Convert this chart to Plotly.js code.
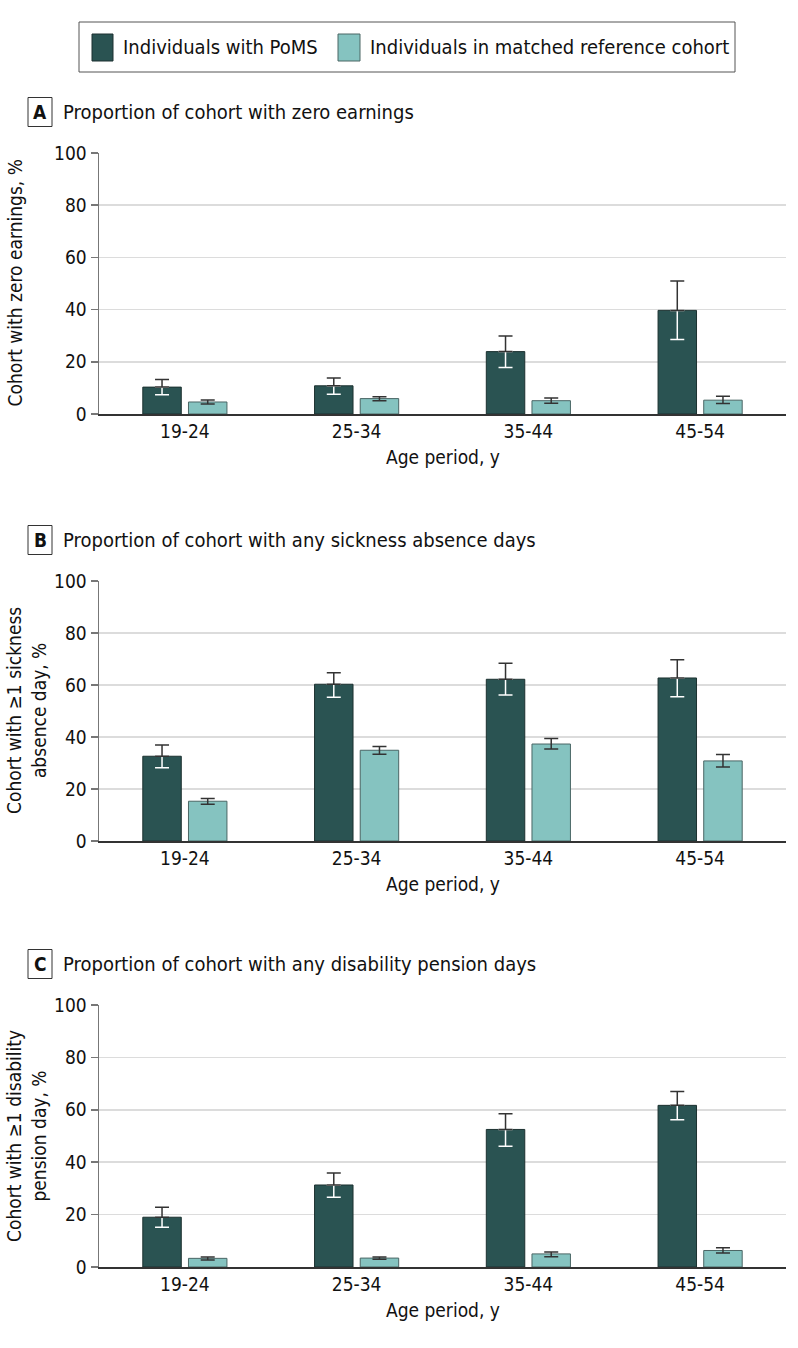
<!DOCTYPE html>
<html>
<head>
<meta charset="utf-8">
<script src="https://cdn.plot.ly/plotly-3.0.1.min.js"></script>
<style>html,body{margin:0;padding:0;background:#fff;}#chart{width:798px;height:1348px;}</style>
</head>
<body>
<div id="chart"></div>
<script>
// ---------- DATA ----------
const categories = ['19-24', '25-34', '35-44', '45-54'];
const seriesNames = ['Individuals with PoMS', 'Individuals in matched reference cohort'];
const panelLetters = ['A', 'B', 'C'];
const panelTitles = [
  'Proportion of cohort with zero earnings',
  'Proportion of cohort with any sickness absence days',
  'Proportion of cohort with any disability pension days'
];
const yTitles = [
  'Cohort with zero earnings, %',
  'Cohort with ≥1 sickness<br>absence day, %',
  'Cohort with ≥1 disability<br>pension day, %'
];
const xTitle = 'Age period, y';
const yTicks = [0, 20, 40, 60, 80, 100];

// Panel A: zero earnings
const zeroPoms   = [10.3, 10.8, 23.9, 39.7];
const zeroPomsLo = [7.4, 7.6, 17.8, 28.5];
const zeroPomsHi = [13.2, 13.8, 29.9, 51.0];
const zeroRef    = [4.6, 5.9, 5.1, 5.3];
const zeroRefLo  = [3.8, 5.1, 4.1, 4.0];
const zeroRefHi  = [5.4, 6.6, 6.1, 6.8];

// Panel B: sickness absence
const sickPoms   = [32.6, 60.3, 62.2, 62.7];
const sickPomsLo = [28.2, 55.3, 56.2, 55.5];
const sickPomsHi = [36.9, 64.7, 68.4, 69.7];
const sickRef    = [15.3, 34.9, 37.3, 30.8];
const sickRefLo  = [14.1, 33.4, 35.4, 28.5];
const sickRefHi  = [16.3, 36.3, 39.4, 33.3];

// Panel C: disability pension
const disPoms   = [19.0, 31.3, 52.5, 61.7];
const disPomsLo = [15.2, 26.6, 46.1, 56.2];
const disPomsHi = [22.8, 35.9, 58.5, 67.0];
const disRef    = [3.3, 3.4, 5.0, 6.3];
const disRefLo  = [2.7, 3.0, 3.9, 5.3];
const disRefHi  = [3.8, 3.8, 5.7, 7.3];

// ---------- STYLE / LAYOUT ----------
const W = 798, H = 1348;
const ML = 99, MR = 12;
const PW = W - ML - MR;
const FONT = '"DejaVu Sans Condensed", "Liberation Sans Narrow", Roboto, sans-serif';
const DARK = '#2a5352', LIGHT = '#85c3c0';
const ERR = '#333333';
const plotTops = [153, 581, 1005];
const plotBottoms = [414, 841, 1267];

const xp = px => (px - ML) / PW;
const yp = py => 1 - py / H;
const diff = (a, b) => a.map((v, i) => v - b[i]);
const zeros = n => new Array(n).fill(0);

const panels = [
  [zeroPoms, zeroPomsLo, zeroPomsHi, zeroRef, zeroRefLo, zeroRefHi],
  [sickPoms, sickPomsLo, sickPomsHi, sickRef, sickRefLo, sickRefHi],
  [disPoms, disPomsLo, disPomsHi, disRef, disRefLo, disRefHi]
];

const data = [];
const layout = {
  width: W, height: H,
  margin: {l: ML, r: MR, t: 0, b: 0, pad: 0},
  paper_bgcolor: '#fff', plot_bgcolor: '#fff',
  font: {family: FONT, size: 19, color: '#111'},
  showlegend: false,
  barmode: 'group',
  bargap: 0.468,
  bargroupgap: 0.158,
  shapes: [], annotations: []
};

panels.forEach((p, i) => {
  const [poms, pomsLo, pomsHi, ref, refLo, refHi] = p;
  const n = i + 1;
  const xa = n === 1 ? 'x' : 'x' + n;
  const ya = n === 1 ? 'y' : 'y' + n;
  const errBase = {type: 'data', symmetric: false, thickness: 1.5, width: 7};
  data.push({
    type: 'bar', x: categories, y: poms, xaxis: xa, yaxis: ya, offsetgroup: 'p',
    name: seriesNames[0], hoverinfo: 'skip',
    marker: {color: DARK, line: {color: '#1c3130', width: 1}}
  });
  data.push({
    type: 'bar', x: categories, y: ref, xaxis: xa, yaxis: ya, offsetgroup: 'r',
    name: seriesNames[1], hoverinfo: 'skip',
    marker: {color: LIGHT, line: {color: '#4a6665', width: 1}},
    error_y: Object.assign({}, errBase, {array: diff(refHi, ref), arrayminus: diff(ref, refLo), color: ERR})
  });
  // white lower part of PoMS error bar (inside the bar)
  data.push({
    type: 'bar', x: categories, y: poms, xaxis: xa, yaxis: ya, offsetgroup: 'p',
    hoverinfo: 'skip',
    marker: {color: 'rgba(0,0,0,0)', line: {width: 0}},
    error_y: Object.assign({}, errBase, {array: zeros(poms.length), arrayminus: diff(poms, pomsLo), color: '#ffffff'})
  });
  // dark upper part of PoMS error bar
  data.push({
    type: 'bar', x: categories, y: poms, xaxis: xa, yaxis: ya, offsetgroup: 'p',
    hoverinfo: 'skip',
    marker: {color: 'rgba(0,0,0,0)', line: {width: 0}},
    error_y: Object.assign({}, errBase, {array: diff(pomsHi, poms), arrayminus: zeros(poms.length), color: ERR})
  });

  const top = plotTops[i], bot = plotBottoms[i];
  layout['xaxis' + (n === 1 ? '' : n)] = {
    anchor: ya, domain: [0, 1], type: 'category',
    range: [-0.5, categories.length - 0.5],
    showline: true, linecolor: '#333', linewidth: 1.5,
    ticks: '', showgrid: false, zeroline: false, fixedrange: true,
    tickfont: {family: FONT, size: 19, color: '#111'}
  };
  layout['yaxis' + (n === 1 ? '' : n)] = {
    anchor: xa, domain: [yp(bot), yp(top)],
    range: [0, 100], tickvals: yTicks,
    showline: true, linecolor: '#777', linewidth: 1.5,
    ticks: 'outside', ticklen: 7, tickcolor: '#777', tickwidth: 1.5,
    showgrid: true, gridcolor: '#dcdcdc', gridwidth: 1.5,
    zeroline: false, fixedrange: true,
    tickfont: {family: FONT, size: 19, color: '#111'}
  };

  // panel letter box + title
  const cy = top - 41;
  layout.shapes.push({type: 'rect', xref: 'paper', yref: 'paper',
    x0: xp(28), x1: xp(52), y0: yp(cy + 14.5), y1: yp(cy - 14.5),
    line: {color: '#333', width: 1}, fillcolor: 'rgba(0,0,0,0)'});
  layout.annotations.push({xref: 'paper', yref: 'paper', x: xp(40), y: yp(cy),
    text: '<b>' + panelLetters[i] + '</b>', showarrow: false, xanchor: 'center', yanchor: 'middle',
    font: {family: FONT, size: 19, color: '#111'}});
  layout.annotations.push({xref: 'paper', yref: 'paper', x: xp(61), y: yp(cy),
    text: panelTitles[i], showarrow: false, xanchor: 'left', yanchor: 'middle',
    font: {family: FONT, size: 20, color: '#111'}});
  // y title
  const twoLine = yTitles[i].indexOf('<br>') >= 0;
  layout.annotations.push({xref: 'paper', yref: 'paper', x: xp(twoLine ? 26 : 14), y: yp((top + bot) / 2),
    text: yTitles[i], showarrow: false, textangle: -90, xanchor: 'center', yanchor: 'middle',
    font: {family: FONT, size: 19, color: '#111'}});
  // x title
  layout.annotations.push({xref: 'paper', yref: 'paper', x: 0.5, y: yp(bot + 43),
    text: xTitle, showarrow: false, xanchor: 'center', yanchor: 'middle',
    font: {family: FONT, size: 19, color: '#111'}});
});

// legend box
layout.shapes.push({type: 'rect', xref: 'paper', yref: 'paper',
  x0: xp(79), x1: xp(735), y0: yp(72), y1: yp(22), line: {color: '#555', width: 1}});
layout.shapes.push({type: 'rect', xref: 'paper', yref: 'paper',
  x0: xp(92), x1: xp(113), y0: yp(61), y1: yp(34), fillcolor: DARK, line: {color: '#1c3130', width: 1}});
layout.shapes.push({type: 'rect', xref: 'paper', yref: 'paper',
  x0: xp(338), x1: xp(360), y0: yp(61), y1: yp(34), fillcolor: LIGHT, line: {color: '#4a6665', width: 1}});
layout.annotations.push({xref: 'paper', yref: 'paper', x: xp(121), y: yp(47.5),
  text: seriesNames[0], showarrow: false, xanchor: 'left', yanchor: 'middle',
  font: {family: FONT, size: 20, color: '#111'}});
layout.annotations.push({xref: 'paper', yref: 'paper', x: xp(368), y: yp(47.5),
  text: seriesNames[1], showarrow: false, xanchor: 'left', yanchor: 'middle',
  font: {family: FONT, size: 20, color: '#111'}});

Plotly.newPlot('chart', data, layout, {displayModeBar: false, staticPlot: true});
</script>
</body>
</html>
